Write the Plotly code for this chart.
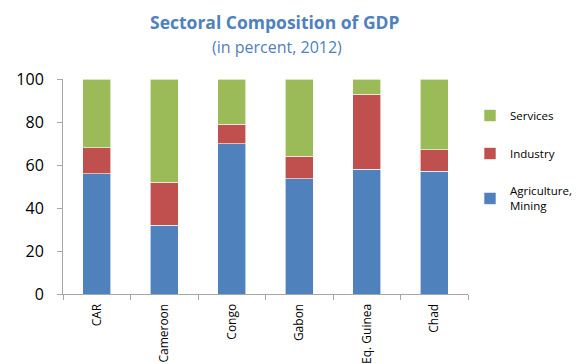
import plotly.graph_objects as go

countries = ["CAR", "Cameroon", "Congo", "Gabon", "Eq. Guinea", "Chad"]
agriculture_mining = [56, 32, 70, 53.5, 58, 57]
industry = [12, 20, 9, 10.5, 35, 10]
services = [32, 48, 21, 36, 7, 33]

BLUE = "#4F81BD"
RED = "#C0504D"
GREEN = "#9BBB59"
AXIS = "#A6A6A6"
FONT = "Open Sans"

W, H = 579, 364
L, R, T, B = 63, 111, 79, 70
PW, PH = W - L - R, H - T - B


def px_x(x):
    return (x - L) / PW


def px_y(y):
    return (H - B - y) / PH


fig = go.Figure()
series = [
    ("Agriculture,<br>Mining", agriculture_mining, BLUE, 3),
    ("Industry", industry, RED, 2),
    ("Services", services, GREEN, 1),
]
for name, vals, color, rank in series:
    fig.add_trace(go.Bar(
        x=countries, y=vals, name=name, legendgroup=name, legendrank=rank,
        marker=dict(color=color, line=dict(color="white", width=0.6)),
        width=0.42,
    ))

fig.update_layout(
    width=W, height=H,
    barmode="stack",
    paper_bgcolor="white", plot_bgcolor="white",
    margin=dict(l=L, r=R, t=T, b=B, autoexpand=False),
    font=dict(family=FONT, color="#000000"),
    legend=dict(
        x=px_x(470), y=px_y(101), xanchor="left", yanchor="top",
        traceorder="grouped", tracegroupgap=19,
        font=dict(size=11.5, family=FONT),
        itemwidth=30,
    ),
)

fig.add_annotation(text="<b>Sectoral Composition of GDP</b>",
                   x=px_x(275), y=px_y(22), xref="paper", yref="paper",
                   showarrow=False, xanchor="center", yanchor="middle",
                   font=dict(size=17.5, color=BLUE, family=FONT))
fig.add_annotation(text="(in percent, 2012)",
                   x=px_x(277), y=px_y(47), xref="paper", yref="paper",
                   showarrow=False, xanchor="center", yanchor="middle",
                   font=dict(size=16, color=BLUE, family=FONT))

fig.update_xaxes(
    showline=True, linecolor=AXIS, linewidth=1,
    ticks="outside", tickson="boundaries", ticklen=5, tickcolor=AXIS,
    tickangle=-90, tickfont=dict(size=12, family=FONT),
    ticklabelstandoff=4,
    showgrid=False,
)
fig.update_yaxes(
    range=[0, 100], dtick=20,
    showline=True, linecolor=AXIS, linewidth=1,
    ticks="outside", ticklen=5, tickcolor=AXIS,
    tickfont=dict(size=16, family=FONT),
    ticklabelstandoff=10,
    showgrid=False, zeroline=False,
)

fig.write_html("out.html")
